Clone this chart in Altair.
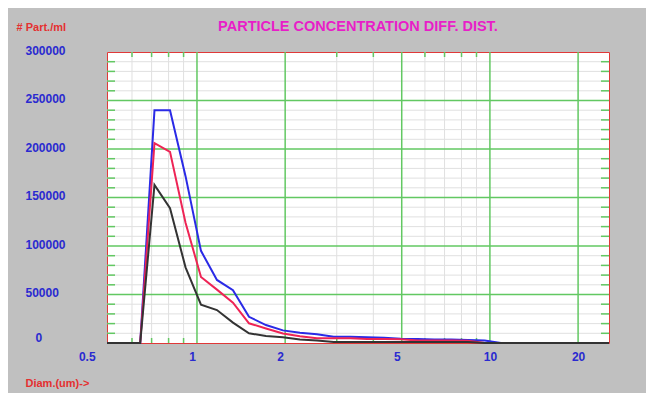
import altair as alt
import pandas as pd

# Diameter bins (um)
diam = [0.493, 0.64, 0.716, 0.809, 0.914, 1.032, 1.17, 1.327, 1.505, 1.72, 1.965,
        2.246, 2.568, 2.93, 3.34, 3.81, 4.35, 4.96, 5.66, 6.46, 7.37, 8.41, 9.6,
        10.9, 25.5]

blue = [0, 0, 240000, 240000, 172000, 95000, 65000, 54500, 27000, 18500, 13000,
        10500, 9000, 6500, 6500, 6000, 5500, 4500, 4000, 3500, 3500, 3000, 2500,
        0, 0]
red = [0, 0, 206000, 197000, 124000, 68000, 55000, 41500, 20300, 15000, 9800,
       7000, 5000, 5000, 5000, 4200, 4000, 3800, 2600, 2600, 2500, 2400, 0,
       0, 0]
black = [0, 0, 163000, 139000, 78000, 39500, 34000, 21000, 10000, 7200, 5900,
         3500, 2500, 1000, 1000, 1000, 1000, 1000, 1000, 1000, 1000, 1000, 0,
         0, 0]

series_names = ["blue", "red", "black"]
series_colors = ["#2a2ae6", "#ee2455", "#333333"]

x_labels = [0.5, 1, 2, 5, 10, 20]
y_labels = [0, 50000, 100000, 150000, 200000, 250000, 300000]
major_x = [1, 2, 5, 10, 20]
minor_x = [0.6, 0.7, 0.8, 0.9, 3, 4, 6, 7, 8, 9]
major_y = [50000, 100000, 150000, 200000, 250000]
minor_y = [v for v in range(10000, 300000, 10000) if v % 50000 != 0]

rows = []
for name, vals in zip(series_names, [blue, red, black]):
    for d, v in zip(diam, vals):
        rows.append({"series": name, "diam": d, "conc": v})
df = pd.DataFrame(rows)

xs = alt.Scale(type="log", domain=[0.493, 25.5], nice=False)
ys = alt.Scale(domain=[0, 300000], nice=False)
FONT = "Liberation Sans"
GREEN = "#62c862"
W, H = 502, 291

x_axis = alt.Axis(values=x_labels, format="~g", grid=False, ticks=False,
                  tickSize=0, domain=False, labelFlush=False, labelOverlap=False,
                  labelFont=FONT, labelFontSize=12, labelFontWeight="bold",
                  labelColor="#2a2ad0", labelPadding=8,
                  labelOffset={"condition": [
                      {"test": "datum.value < 0.7", "value": -22},
                      {"test": "datum.value < 7", "value": -5}], "value": 0},
                  title="Diam.(um)->", titleFont=FONT, titleFontSize=11,
                  titleFontWeight="bold", titleColor="#e43030",
                  titleAlign="left", titleBaseline="middle", titleAngle=0,
                  titleX=-82, titleY=40)
y_axis = alt.Axis(values=y_labels, format="d", grid=False, ticks=False,
                  tickSize=0, domain=False, labelFlush=False, labelOverlap=False,
                  labelFont=FONT, labelFontSize=12, labelFontWeight="bold",
                  labelColor="#2a2ad0", labelAlign="left",
                  labelPadding={"condition": {"test": "datum.value == 0", "value": 72},
                                "value": 82},
                  labelOffset={"condition": {"test": "datum.value == 0", "value": -6},
                               "value": -2},
                  title="# Part./ml", titleFont=FONT, titleFontSize=11,
                  titleFontWeight="bold", titleColor="#e43030",
                  titleAlign="left", titleBaseline="middle", titleAngle=0,
                  titleX=-91, titleY=-25)

mx = pd.DataFrame({"v": minor_x})
my = pd.DataFrame({"v": minor_y})
Mx = pd.DataFrame({"v": major_x})
My = pd.DataFrame({"v": major_y})

minor_vx = alt.Chart(mx).mark_rule(color="#e0e0e0", strokeWidth=1).encode(
    x=alt.X("v:Q", scale=xs, axis=x_axis))
minor_hy = alt.Chart(my).mark_rule(color="#e0e0e0", strokeWidth=1).encode(
    y=alt.Y("v:Q", scale=ys, axis=y_axis))
major_vx = alt.Chart(Mx).mark_rule(color=GREEN, strokeWidth=1.5).encode(
    x=alt.X("v:Q", scale=xs, axis=x_axis))
major_hy = alt.Chart(My).mark_rule(color=GREEN, strokeWidth=1.5).encode(
    y=alt.Y("v:Q", scale=ys, axis=y_axis))
tick_l = alt.Chart(my).mark_rule(color=GREEN, strokeWidth=1.5).encode(
    y=alt.Y("v:Q", scale=ys, axis=y_axis), x=alt.value(0), x2=alt.value(8))
tick_r = alt.Chart(my).mark_rule(color=GREEN, strokeWidth=1.5).encode(
    y=alt.Y("v:Q", scale=ys, axis=y_axis), x=alt.value(W - 8), x2=alt.value(W))
tick_t = alt.Chart(mx).mark_rule(color=GREEN, strokeWidth=1.5).encode(
    x=alt.X("v:Q", scale=xs, axis=x_axis), y=alt.value(0), y2=alt.value(5))
tick_b = alt.Chart(mx).mark_rule(color=GREEN, strokeWidth=1.5).encode(
    x=alt.X("v:Q", scale=xs, axis=x_axis), y=alt.value(H - 5), y2=alt.value(H))

lines = alt.Chart(df).mark_line(strokeWidth=2).encode(
    x=alt.X("diam:Q", scale=xs, axis=x_axis),
    y=alt.Y("conc:Q", scale=ys, axis=y_axis),
    color=alt.Color("series:N", scale=alt.Scale(domain=series_names, range=series_colors),
                    legend=None),
    order=alt.Order("diam:Q"),
)

chart = alt.layer(
    minor_vx, minor_hy, major_vx, major_hy, tick_l, tick_r, tick_t, tick_b, lines
).properties(
    width=W, height=H,
    title=alt.TitleParams("PARTICLE CONCENTRATION DIFF. DIST.", font=FONT, fontSize=14.5,
                          fontWeight="bold", color="#e81ec8", anchor="middle",
                          frame="group", offset=0, dy=13),
    padding={"left": 99, "top": 44, "right": 37, "bottom": 50},
    autosize=alt.AutoSizeParams(type="none"),
    background="#c0c0c0",
).configure_view(stroke="#e03838", strokeWidth=1, fill="white")

chart.save("out.html", embed_options={"renderer": "svg", "actions": False})
